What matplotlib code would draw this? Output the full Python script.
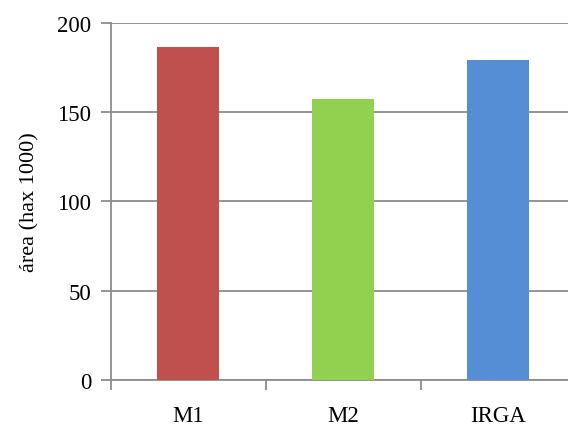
import matplotlib
matplotlib.use('Agg')
from matplotlib import pyplot as plt

categories = ['M1', 'M2', 'IRGA']
values = [186.5, 157.5, 179.5]
colors = ['#C0504D', '#92D050', '#558ED5']

plt.rcParams['font.family'] = ['Liberation Serif', 'DejaVu Serif']

fig = plt.figure(figsize=(5.68, 4.27), dpi=100)
ax = fig.add_axes([0.1954, 0.1084, 0.8186, 0.8354])

x = range(len(categories))
ax.bar(x, values, width=0.4, color=colors, zorder=3)

ax.set_xlim(-0.5, 2.5)
ax.set_ylim(0, 200)
ax.set_yticks([0, 50, 100, 150, 200])
ax.yaxis.grid(True, color='#8c8c8c', linewidth=1.3, zorder=0)

ax.set_xticks([-0.5, 0.5, 1.5, 2.5])
ax.set_xticklabels([])
ax.set_xticks(list(x), minor=True)
ax.set_xticklabels(categories, minor=True, fontsize=16.5)
ax.tick_params(axis='x', which='minor', length=0, pad=18)
ax.tick_params(axis='x', which='major', length=7, width=1.3, color='#8c8c8c', direction='out')
ax.tick_params(axis='y', length=7, width=1.3, color='#8c8c8c', labelsize=16.5, pad=7)

for s in ['top', 'right']:
    ax.spines[s].set_visible(False)
for s in ['left', 'bottom']:
    ax.spines[s].set_color('#8c8c8c')
    ax.spines[s].set_linewidth(1.3)

ax.set_ylabel('área (hax 1000)', fontsize=16, labelpad=13)

fig.savefig('out.png', dpi=100)
